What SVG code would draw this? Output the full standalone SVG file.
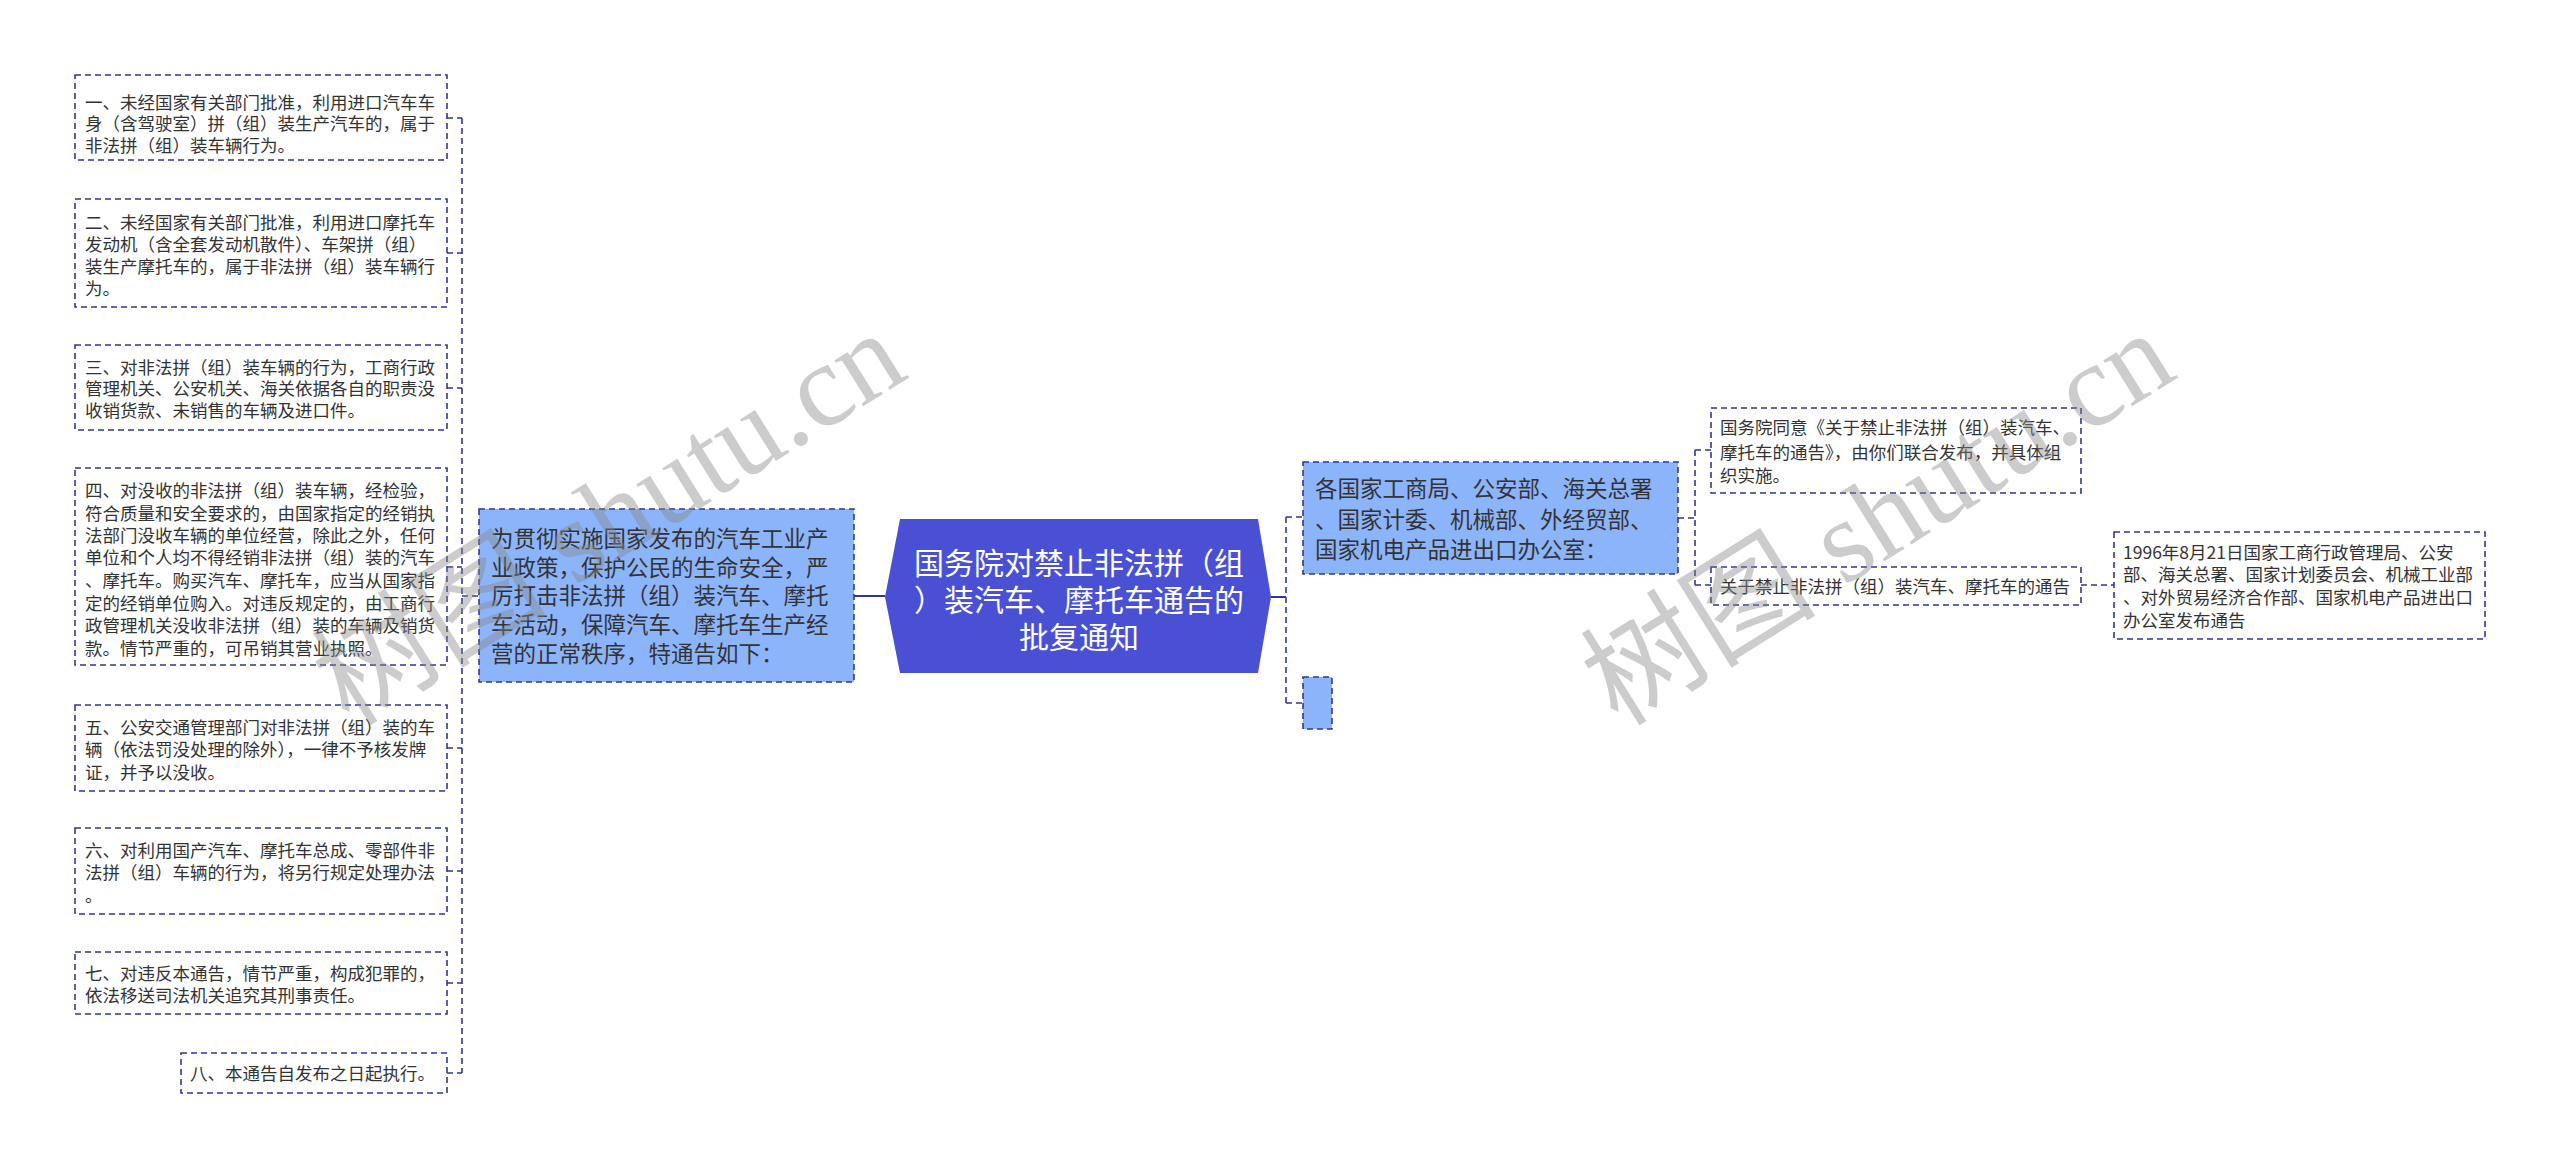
<svg xmlns="http://www.w3.org/2000/svg" width="2560" height="1169" viewBox="0 0 2560 1169">
<style>
.box{fill:#ffffff;stroke:#323694;stroke-width:1.6;stroke-dasharray:6 4}
.node{fill:#8cb4fb;stroke:#323694;stroke-width:1.6;stroke-dasharray:6 4}
.t{font-family:"Noto Sans CJK SC","Noto Sans",sans-serif;font-size:17.5px;fill:#333333}
.tm{font-family:"Noto Sans CJK SC","Noto Sans",sans-serif;font-size:22.5px;fill:#333333}
.tc{font-family:"Noto Sans CJK SC","Noto Sans",sans-serif;font-size:30px;fill:#ffffff;text-anchor:middle}
.c{fill:none;stroke:#323694;stroke-width:1.6;stroke-dasharray:6 4}
.s{fill:none;stroke:#323694;stroke-width:2}
.wm{font-family:"Liberation Serif","Noto Sans CJK SC",serif;font-size:118px;fill:#888888;opacity:0.42;text-anchor:middle}
</style>
<rect width="2560" height="1169" fill="#ffffff"/>
<g id="connectors">
<path class="c" d="M462 118V1073"/>
<path class="c" d="M447 118H462M447 253H462M447 388H462M447 567H462M447 748H462M447 871H462M447 983H462M447 1073H462M462 596H479"/>
<path class="s" d="M854 596H885"/>
<path class="s" d="M1271 597H1286"/>
<path class="c" d="M1286 517V703M1286 517H1303M1286 703H1303"/>
<path class="c" d="M1678 518H1695M1695 450V585M1695 450H1711M1695 585H1711"/>
<path class="c" d="M2081 585H2114"/>
</g>
<g id="n1"><rect class="box" x="75" y="75" width="372" height="85"/>
<text class="t"><tspan x="85" y="109">一、未经国家有关部门批准，利用进口汽车车</tspan><tspan x="85" y="130">身（含驾驶室）拼（组）装生产汽车的，属于</tspan><tspan x="85" y="152">非法拼（组）装车辆行为。</tspan></text></g>
<g id="n2"><rect class="box" x="75" y="199" width="372" height="108"/>
<text class="t"><tspan x="85" y="229">二、未经国家有关部门批准，利用进口摩托车</tspan><tspan x="85" y="251">发动机（含全套发动机散件）、车架拼（组）</tspan><tspan x="85" y="273">装生产摩托车的，属于非法拼（组）装车辆行</tspan><tspan x="85" y="295">为。</tspan></text></g>
<g id="n3"><rect class="box" x="75" y="345" width="372" height="85"/>
<text class="t"><tspan x="85" y="374">三、对非法拼（组）装车辆的行为，工商行政</tspan><tspan x="85" y="395">管理机关、公安机关、海关依据各自的职责没</tspan><tspan x="85" y="417">收销货款、未销售的车辆及进口件。</tspan></text></g>
<g id="n4"><rect class="box" x="75" y="468" width="372" height="197"/>
<text class="t"><tspan x="85" y="497">四、对没收的非法拼（组）装车辆，经检验，</tspan><tspan x="85" y="520">符合质量和安全要求的，由国家指定的经销执</tspan><tspan x="85" y="542">法部门没收车辆的单位经营，除此之外，任何</tspan><tspan x="85" y="564">单位和个人均不得经销非法拼（组）装的汽车</tspan><tspan x="85" y="587">、摩托车。购买汽车、摩托车，应当从国家指</tspan><tspan x="85" y="610">定的经销单位购入。对违反规定的，由工商行</tspan><tspan x="85" y="632">政管理机关没收非法拼（组）装的车辆及销货</tspan><tspan x="85" y="655">款。情节严重的，可吊销其营业执照。</tspan></text></g>
<g id="n5"><rect class="box" x="75" y="705" width="372" height="86"/>
<text class="t"><tspan x="85" y="734">五、公安交通管理部门对非法拼（组）装的车</tspan><tspan x="85" y="756">辆（依法罚没处理的除外），一律不予核发牌</tspan><tspan x="85" y="779">证，并予以没收。</tspan></text></g>
<g id="n6"><rect class="box" x="75" y="828" width="372" height="86"/>
<text class="t"><tspan x="85" y="857">六、对利用国产汽车、摩托车总成、零部件非</tspan><tspan x="85" y="879">法拼（组）车辆的行为，将另行规定处理办法</tspan><tspan x="85" y="902">。</tspan></text></g>
<g id="n7"><rect class="box" x="75" y="952" width="372" height="62"/>
<text class="t"><tspan x="85" y="980">七、对违反本通告，情节严重，构成犯罪的，</tspan><tspan x="85" y="1002">依法移送司法机关追究其刑事责任。</tspan></text></g>
<g id="n8"><rect class="box" x="181" y="1053" width="266" height="40"/>
<text class="t"><tspan x="190" y="1080">八、本通告自发布之日起执行。</tspan></text></g>
<g id="left"><rect class="node" x="479" y="509" width="375" height="173"/>
<text class="tm"><tspan x="491" y="547">为贯彻实施国家发布的汽车工业产</tspan><tspan x="491" y="576">业政策，保护公民的生命安全，严</tspan><tspan x="491" y="604">厉打击非法拼（组）装汽车、摩托</tspan><tspan x="491" y="633">车活动，保障汽车、摩托车生产经</tspan><tspan x="491" y="662">营的正常秩序，特通告如下：</tspan></text></g>
<g id="center"><path d="M900 519H1258L1271 597L1258 673H900L885 597Z" fill="#4a50d4"/>
<text class="tc"><tspan x="1079" y="574">国务院对禁止非法拼（组</tspan><tspan x="1079" y="611">）装汽车、摩托车通告的</tspan><tspan x="1079" y="648">批复通知</tspan></text></g>
<g id="right"><rect class="node" x="1303" y="462" width="375" height="112"/>
<text class="tm"><tspan x="1315" y="497">各国家工商局、公安部、海关总署</tspan><tspan x="1315" y="528">、国家计委、机械部、外经贸部、</tspan><tspan x="1315" y="558">国家机电产品进出口办公室：</tspan></text></g>
<g id="empty"><rect class="node" x="1303" y="677" width="29" height="52"/></g>
<g id="ra"><rect class="box" x="1711" y="408" width="370" height="85"/>
<text class="t"><tspan x="1720" y="434">国务院同意《关于禁止非法拼（组）装汽车、</tspan><tspan x="1720" y="459">摩托车的通告》，由你们联合发布，并具体组</tspan><tspan x="1720" y="482">织实施。</tspan></text></g>
<g id="rb"><rect class="box" x="1711" y="567" width="370" height="38"/>
<text class="t"><tspan x="1720" y="593">关于禁止非法拼（组）装汽车、摩托车的通告</tspan></text></g>
<g id="rc"><rect class="box" x="2114" y="532" width="371" height="107"/>
<text class="t"><tspan x="2123" y="559">1996年8月21日国家工商行政管理局、公安</tspan><tspan x="2123" y="581">部、海关总署、国家计划委员会、机械工业部</tspan><tspan x="2123" y="604">、对外贸易经济合作部、国家机电产品进出口</tspan><tspan x="2123" y="627">办公室发布通告</tspan></text></g>
<text class="wm" transform="translate(630 552) rotate(-32)">树图 shutu.cn</text>
<text class="wm" transform="translate(1899 552) rotate(-32)">树图 shutu.cn</text>
</svg>
